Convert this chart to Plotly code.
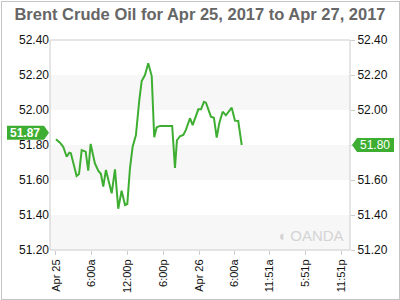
import plotly.graph_objects as go

times = [
    "2017-04-25 00:00", "2017-04-25 00:40", "2017-04-25 01:13", "2017-04-25 01:48",
    "2017-04-25 02:14", "2017-04-25 02:30", "2017-04-25 03:28", "2017-04-25 03:52",
    "2017-04-25 04:19", "2017-04-25 04:59", "2017-04-25 05:25", "2017-04-25 05:49",
    "2017-04-25 06:32", "2017-04-25 07:06", "2017-04-25 07:33", "2017-04-25 07:56",
    "2017-04-25 08:23", "2017-04-25 09:21", "2017-04-25 09:54", "2017-04-25 10:27",
    "2017-04-25 11:01", "2017-04-25 11:35", "2017-04-25 11:58", "2017-04-25 12:25",
    "2017-04-25 12:52", "2017-04-25 13:25", "2017-04-25 13:59", "2017-04-25 14:23",
    "2017-04-25 14:56", "2017-04-25 15:29", "2017-04-25 16:04", "2017-04-25 16:29",
    "2017-04-25 16:54", "2017-04-25 17:27", "2017-04-25 19:30", "2017-04-25 19:58",
    "2017-04-25 20:18", "2017-04-25 20:48", "2017-04-25 21:22", "2017-04-25 21:48",
    "2017-04-25 22:29", "2017-04-25 22:56", "2017-04-25 23:53", "2017-04-26 00:20",
    "2017-04-26 00:50", "2017-04-26 01:10", "2017-04-26 02:00", "2017-04-26 02:30",
    "2017-04-26 02:58", "2017-04-26 03:24", "2017-04-26 03:58", "2017-04-26 04:31",
    "2017-04-26 05:29", "2017-04-26 06:02", "2017-04-26 06:35", "2017-04-26 07:10",
]
prices = [
    51.833, 51.813, 51.790, 51.733, 51.756, 51.753, 51.623, 51.634,
    51.771, 51.762, 51.653, 51.806, 51.695, 51.653, 51.634, 51.562,
    51.657, 51.524, 51.661, 51.436, 51.539, 51.457, 51.463, 51.667,
    51.790, 51.857, 52.057, 52.166, 52.200, 52.267, 52.194, 51.844,
    51.901, 51.909, 51.909, 51.669, 51.827, 51.850, 51.857, 51.886,
    51.953, 51.914, 52.004, 52.004, 52.047, 52.042, 51.962, 51.956,
    51.842, 51.924, 51.990, 51.970, 52.013, 51.939, 51.937, 51.800,
]

x_tick_vals = ["2017-04-25 00:00", "2017-04-25 06:00", "2017-04-25 12:00", "2017-04-25 18:00",
               "2017-04-26 00:00", "2017-04-26 06:00", "2017-04-26 11:51", "2017-04-26 17:51",
               "2017-04-26 23:51"]
x_tick_text = ["Apr 25", "6:00a", "12:00p", "6:00p", "Apr 26", "6:00a", "11:51a", "5:51p", "11:51p"]
y_ticks = [51.20, 51.40, 51.60, 51.80, 52.00, 52.20, 52.40]
band_ranges = [(51.20, 51.40), (51.60, 51.80), (52.00, 52.20)]
x_range = ["2017-04-24 23:00", "2017-04-27 01:20"]
y_range = [51.20, 52.40]
left_label = 51.87
right_label = 51.80
title = "Brent Crude Oil for Apr 25, 2017 to Apr 27, 2017"

GREEN = "#3eae32"
FONT = "Liberation Sans, Arial, sans-serif"

fig = go.Figure()
fig.add_trace(go.Scatter(x=times, y=prices, mode="lines",
                         line=dict(color=GREEN, width=2), hoverinfo="skip", showlegend=False))
fig.add_trace(go.Scatter(x=times, y=prices, mode="lines", yaxis="y2",
                         line=dict(color="rgba(0,0,0,0)", width=0), hoverinfo="skip", showlegend=False))

shapes = []
for lo, hi in band_ranges:
    shapes.append(dict(type="rect", xref="paper", yref="y", x0=0, x1=1, y0=lo, y1=hi,
                       fillcolor="#f7f7f7", line=dict(width=0), layer="below"))
# plot frame
shapes.append(dict(type="rect", xref="paper", yref="paper", x0=0, x1=1, y0=0, y1=1,
                   line=dict(color="#cccccc", width=1), layer="above"))
# left price tag
shapes.append(dict(type="path", xref="paper", yref="y", xsizemode="pixel", ysizemode="pixel",
                   xanchor=0, yanchor=left_label,
                   path="M -43 -7 L -6 -7 L -1 0 L -6 7 L -43 7 Z",
                   fillcolor=GREEN, line=dict(width=0)))
# right price tag
shapes.append(dict(type="path", xref="paper", yref="y", xsizemode="pixel", ysizemode="pixel",
                   xanchor=1, yanchor=right_label,
                   path="M 2 0 L 7 -7 L 44 -7 L 44 7 L 7 7 Z",
                   fillcolor=GREEN, line=dict(width=0)))

annotations = [
    # figure edge border
    dict(x=0.5, xref="paper", y=100 / 210, yref="paper", xanchor="center", yanchor="middle",
         text=" ", showarrow=False, width=397, height=297, borderpad=0,
         bordercolor="#c4c4c4", borderwidth=1, bgcolor="rgba(0,0,0,0)"),
    dict(x=0, xref="paper", y=left_label, yref="y", xshift=-25, xanchor="center",
         yanchor="middle", text="<b>51.87</b>",
         showarrow=False, font=dict(family=FONT, size=12, color="white")),
    dict(x=1, xref="paper", y=right_label, yref="y", xshift=25, xanchor="center",
         yanchor="middle", text="51.80",
         showarrow=False, font=dict(family=FONT, size=12, color="white")),
    dict(x=0.985, xref="paper", y=0.02, yref="paper", xanchor="right", yanchor="bottom",
         text="◖ OANDA", showarrow=False, font=dict(family=FONT, size=15, color="#d4d4d4")),
]

axis_font = dict(family=FONT, size=12, color="#111111")
left_text = [f"{v:.2f}" for v in y_ticks]
right_text = ["" if abs(v - right_label) < 1e-9 else f"{v:.2f}" for v in y_ticks]
fig.update_layout(
    width=400, height=300,
    margin=dict(l=50, r=50, t=40, b=50, autoexpand=False),
    paper_bgcolor="white", plot_bgcolor="white",
    title=dict(text="<b>" + title + "</b>", x=0.5, xanchor="center", y=1 - 14 / 300,
               yanchor="middle", yref="container",
               font=dict(family=FONT, size=16.5, color="#666666")),
    xaxis=dict(type="date", range=x_range, tickvals=x_tick_vals, ticktext=x_tick_text,
               tickangle=-90, ticks="outside", ticklen=4, tickcolor="#cccccc",
               showgrid=False, zeroline=False, showline=False, automargin=False,
               tickfont=dict(family=FONT, size=11, color="#111111")),
    yaxis=dict(range=y_range, tickvals=y_ticks, ticktext=left_text, automargin=False,
               showgrid=False, zeroline=False, showline=False, ticks="",
               tickfont=axis_font, side="left"),
    yaxis2=dict(range=y_range, tickvals=y_ticks, ticktext=right_text, automargin=False,
                overlaying="y", side="right", showgrid=False, zeroline=False, showline=False,
                ticks="outside", ticklen=4, tickcolor="#cccccc", tickfont=axis_font),
    shapes=shapes, annotations=annotations, showlegend=False,
)

fig.write_html("out.html")
